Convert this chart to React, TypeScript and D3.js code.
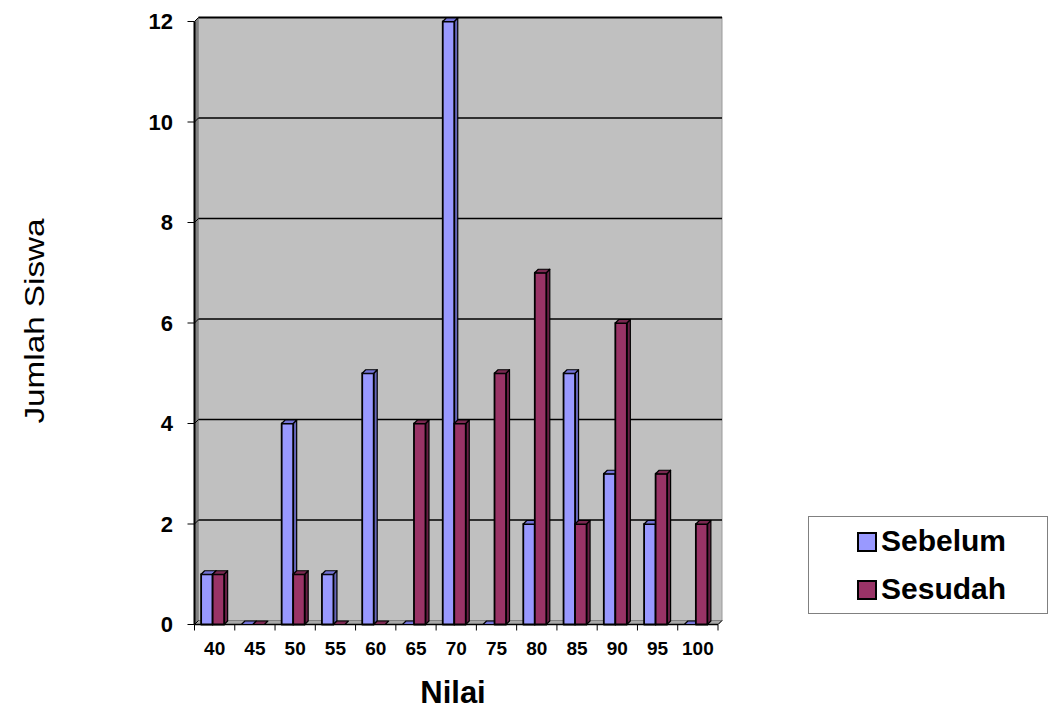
import React from "react";
import * as d3 from "d3";

const categories = ["40", "45", "50", "55", "60", "65", "70", "75", "80", "85", "90", "95", "100"];
const sebelum = [1, 0, 4, 1, 5, 0, 12, 0, 2, 5, 3, 2, 0];
const sesudah = [1, 0, 1, 0, 0, 4, 4, 5, 7, 2, 6, 3, 2];
const yTicks = [0, 2, 4, 6, 8, 10, 12];
const seriesNames = ["Sebelum", "Sesudah"];

const W = 1056;
const H = 709;
const FONT = "'Liberation Sans', Arial, Helvetica, sans-serif";

const colors = [
  { front: "#9999FF", top: "#7373D6", side: "#6666BB" },
  { front: "#993366", top: "#7A2850", side: "#661F44" },
];

export default function App() {
  const x = d3.scaleBand<string>().domain(categories).range([194.5, 718]).paddingInner(0).paddingOuter(0);
  const y = d3.scaleLinear().domain([0, 12]).range([624.5, 21.5]);
  const D = 4; // wall depth offset
  const d = 3.5; // bar depth offset
  const x0 = 194.5;
  const x1 = 718;
  const y0 = y(0);
  const yTop = y(12);
  const bw = x.bandwidth() / 3.5;

  const pts = (arr: number[][]) => arr.map((p) => p.join(",")).join(" ");

  const bars: React.ReactNode[] = [];
  categories.forEach((c, i) => {
    const left = (x(c) as number) + (x.bandwidth() - 2 * bw) / 2 - 2;
    [sebelum, sesudah].forEach((series, s) => {
      const v = series[i];
      const bl = left + s * bw;
      const br = bl + bw;
      const yt = y(v);
      const col = colors[s];
      bars.push(
        <g key={`${c}-${s}`} stroke="#000" strokeWidth={1.2} strokeLinejoin="round">
          {v > 0 && (
            <polygon points={pts([[br, yt], [br + d, yt - d], [br + d, y0 - d], [br, y0]])} fill={col.side} />
          )}
          {v > 0 && <rect x={bl} y={yt} width={bw} height={y0 - yt} fill={col.front} strokeWidth={1.8} />}
          <polygon points={pts([[bl, yt], [bl + d, yt - d], [br + d, yt - d], [br, yt]])} fill={col.top} />
        </g>
      );
    });
  });

  return (
    <svg width={W} height={H} style={{ position: "absolute", left: 0, top: 0, background: "#fff" }} fontFamily={FONT}>
      {/* back wall */}
      <rect x={x0 + D} y={yTop - D} width={x1 - x0} height={y0 - yTop} fill="#C0C0C0" stroke="#9a9a9a" strokeWidth={1} />
      {/* side wall */}
      <polygon points={pts([[x0, yTop], [x0 + D, yTop - D], [x0 + D, y0 - D], [x0, y0]])} fill="#808080" />
      {/* floor */}
      <polygon points={pts([[x0, y0], [x0 + D, y0 - D], [x1 + D, y0 - D], [x1, y0]])} fill="#A8A8A8" stroke="#808080" strokeWidth={1} />
      {/* gridlines */}
      {yTicks.map((t) => (
        <g key={t}>
          {t > 0 && (
            <line x1={x0 + D} x2={x1 + D} y1={y(t) - D} y2={y(t) - D} stroke="#000" strokeWidth={t === 12 ? 2 : 1.5} />
          )}
          <line x1={x0} x2={x0 + D} y1={y(t)} y2={y(t) - D} stroke="#000" strokeWidth={1} />
          <line x1={x0 - 7} x2={x0} y1={y(t)} y2={y(t)} stroke="#000" strokeWidth={1} />
          <text x={173} y={y(t)} dy="0.36em" textAnchor="end" fontWeight="bold" fontSize={22}>
            {t}
          </text>
        </g>
      ))}
      {/* y axis line */}
      <line x1={x0} x2={x0} y1={yTop} y2={y0} stroke="#000" strokeWidth={2} />
      {/* x axis */}
      <line x1={x0} x2={x1} y1={y0} y2={y0} stroke="#000" strokeWidth={1.5} />
      <line x1={x1} x2={x1 + D} y1={y0} y2={y0 - D} stroke="#000" strokeWidth={1} />
      {categories.map((c, i) => (
        <line key={`t${i}`} x1={x(c) as number} x2={x(c) as number} y1={y0} y2={y0 + 6} stroke="#000" strokeWidth={1} />
      ))}
      <line x1={x1} x2={x1} y1={y0} y2={y0 + 6} stroke="#000" strokeWidth={1} />
      {bars}
      {categories.map((c) => (
        <text key={`l${c}`} x={(x(c) as number) + x.bandwidth() / 2} y={655} textAnchor="middle" fontWeight="bold" fontSize={19}>
          {c}
        </text>
      ))}
      {/* axis titles */}
      <text x={453} y={703} textAnchor="middle" fontWeight="bold" fontSize={31}>
        Nilai
      </text>
      <text
        transform={`translate(44,321) rotate(-90)`}
        textAnchor="middle"
        fontSize={27}
        textLength={205}
        lengthAdjust="spacingAndGlyphs"
      >
        Jumlah Siswa
      </text>
      {/* legend */}
      <rect x={808.5} y={516.5} width={239} height={97} fill="#fff" stroke="#808080" strokeWidth={1} />
      {seriesNames.map((n, i) => (
        <g key={n}>
          <rect x={858} y={533 + i * 48} width={18} height={18} fill={colors[i].front} stroke="#000" strokeWidth={2} />
          <text x={881} y={551 + i * 47.5} fontWeight="bold" fontSize={30}>
            {n}
          </text>
        </g>
      ))}
    </svg>
  );
}
